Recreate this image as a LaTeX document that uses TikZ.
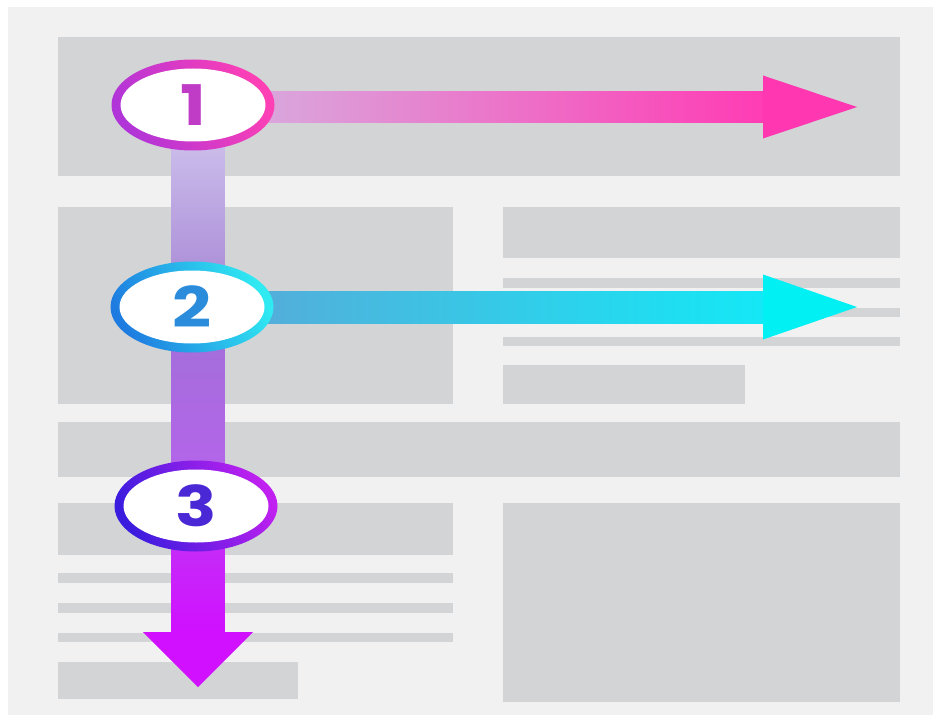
\documentclass[tikz,border=0pt]{standalone}
\usepackage{fontspec}
\newfontfamily\numfont{Poppins}[FakeStretch=1.22]
\usetikzlibrary{shapes.geometric,calc}
\definecolor{pagebg}{HTML}{F1F1F1}
\definecolor{blockgray}{HTML}{D2D4D6}
\definecolor{aOneL}{HTML}{D4B6E2}
\definecolor{aOneR}{HTML}{FF3CB4}
\definecolor{aOneH}{HTML}{FF38B2}
\definecolor{aTwoL}{HTML}{5CA6D6}
\definecolor{aTwoR}{HTML}{14E8F6}
\definecolor{aTwoH}{HTML}{00F0F4}
\definecolor{vAtop}{HTML}{D4CAF0}
\definecolor{vAbot}{HTML}{A584D4}
\definecolor{vBtop}{HTML}{A070D6}
\definecolor{vBbot}{HTML}{B862EE}
\definecolor{vCtop}{HTML}{C038F4}
\definecolor{vCbot}{HTML}{D010FF}
\definecolor{vHead}{HTML}{D010FF}
\definecolor{rOneA}{HTML}{B034D8}
\definecolor{rOneB}{HTML}{FF40B4}
\definecolor{rTwoA}{HTML}{1E7CE0}
\definecolor{rTwoB}{HTML}{30EAF2}
\definecolor{rThrA}{HTML}{3A1CDE}
\definecolor{rThrB}{HTML}{C020F0}
\definecolor{numOne}{HTML}{C03CC6}
\definecolor{numTwo}{HTML}{2C8CDC}
\definecolor{numThr}{HTML}{4A28D6}
\begin{document}
\begin{tikzpicture}[x=1pt,y=-1pt,
  blk/.style={fill=blockgray,draw=none},
  ring/.style={ellipse, minimum width=163pt, minimum height=91pt, inner sep=0pt},
  hole/.style={ellipse, fill=white, minimum width=145pt, minimum height=73pt, inner sep=0pt,
    font=\numfont\fontsize{56}{56}\selectfont\bfseries},
]
\useasboundingbox (0,0) rectangle (939,722);
\fill[white] (0,0) rectangle (939,722);
\fill[pagebg] (8,7) rectangle (933,715);
% layout blocks
\fill[blk] (58,37) rectangle (900,176);
\fill[blk] (58,207) rectangle (453,404);
\fill[blk] (503,207) rectangle (900,258);
\fill[blk] (503,278) rectangle (900,288);
\fill[blk] (503,308) rectangle (900,317);
\fill[blk] (503,337) rectangle (900,346);
\fill[blk] (503,365) rectangle (745,404);
\fill[blk] (58,422) rectangle (900,477);
\fill[blk] (58,503) rectangle (453,555);
\fill[blk] (503,503) rectangle (900,702);
\fill[blk] (58,573) rectangle (453,583);
\fill[blk] (58,603) rectangle (453,613);
\fill[blk] (58,633) rectangle (453,642);
\fill[blk] (58,662) rectangle (298,699);
% centres and tips
\coordinate (c1) at (193,105);
\coordinate (c2) at (192,307);
\coordinate (c3) at (196,506);
\coordinate (t1) at (857,107);
\coordinate (t2) at (857,307);
\coordinate (t3) at (198,687);
% vertical arrow
\shade[top color=vAtop, bottom color=vAbot] ($(t3|-c1)+(-26.5,0)$) rectangle ($(t3|-c2)+(26.5,0)$);
\shade[top color=vBtop, bottom color=vBbot] ($(t3|-c2)+(-26.5,0)$) rectangle ($(t3|-c3)+(26.5,0)$);
\shade[top color=vCtop, bottom color=vCbot] ($(t3|-c3)+(-26.5,0)$) rectangle ($(t3)+(26.5,-55)$);
\fill[vHead] ($(t3)+(-55,-55)$) -- (t3) -- ($(t3)+(55,-55)$) -- cycle;
% arrow 1
\shade[left color=aOneL, right color=aOneR] ($(t1-|c1)+(0,-15.5)$) rectangle ($(t1)+(-94,15.5)$);
\fill[aOneH] ($(t1)+(-94,-31.5)$) -- (t1) -- ($(t1)+(-94,31.5)$) -- cycle;
% arrow 2
\shade[left color=aTwoL, right color=aTwoR] ($(c2)+(0,-16)$) rectangle ($(t2)+(-94,16)$);
\fill[aTwoH] ($(t2)+(-94,-32.5)$) -- (t2) -- ($(t2)+(-94,32.5)$) -- cycle;
% badges
\node[ring, left color=rOneA, right color=rOneB, shading angle=115] (n1) at (c1) {};
\node[hole, text=numOne] (m1) at (n1) {1};
\node[ring, left color=rTwoA, right color=rTwoB, shading angle=115] (n2) at (c2) {};
\node[hole, text=numTwo] (m2) at (n2) {2};
\node[ring, left color=rThrA, right color=rThrB, shading angle=115] (n3) at (c3) {};
\node[hole, text=numThr] (m3) at (n3) {3};
\end{tikzpicture}
\end{document}
